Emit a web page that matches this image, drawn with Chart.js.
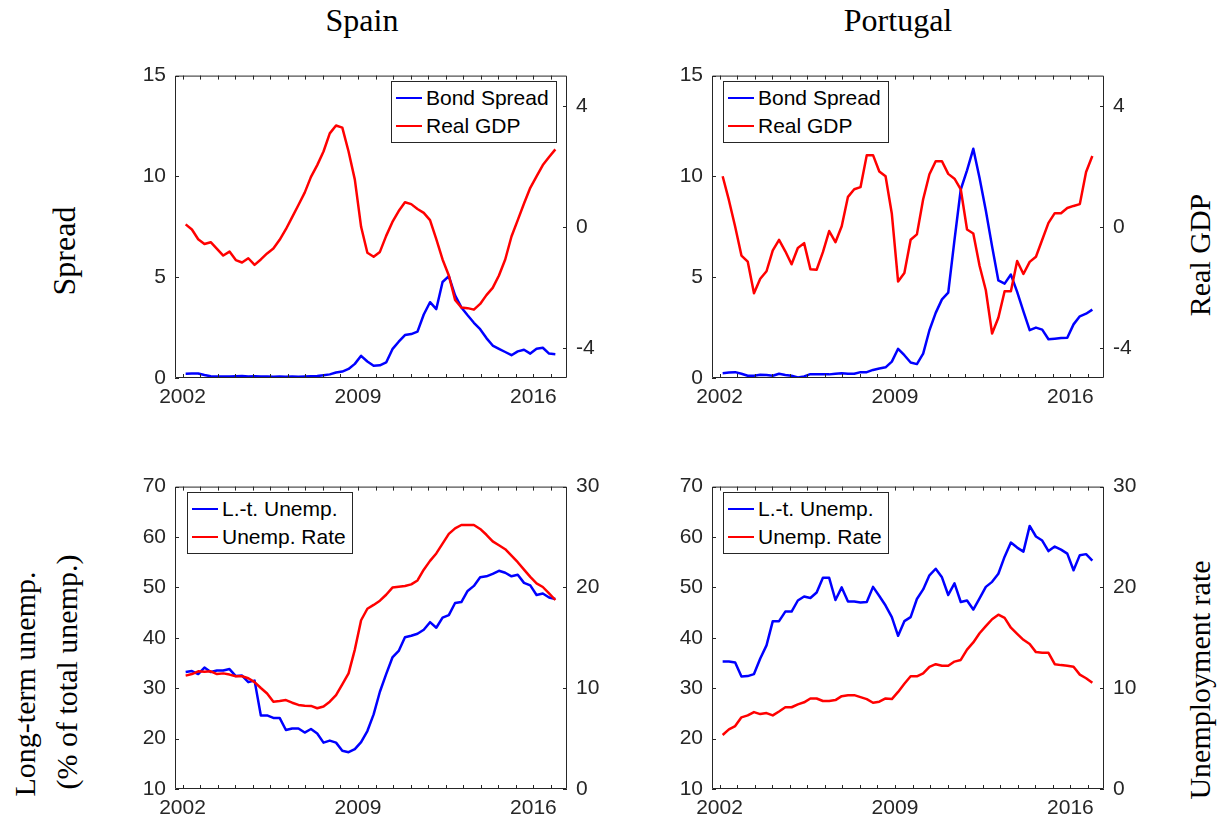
<!DOCTYPE html>
<html>
<head>
<meta charset="utf-8">
<script src="https://cdn.jsdelivr.net/npm/chart.js@4"></script>
<style>
  body { margin: 0; background: #fff; width: 1220px; height: 827px; position: relative; overflow: hidden;
         font-family: "Liberation Sans", Arial, sans-serif; }
  canvas { position: absolute; }
  .lbl { position: absolute; font-family: "Liberation Serif", serif; font-size: 30px; color: #000;
         white-space: nowrap; transform: translate(-50%, -50%); }
  .title { font-size: 32px; }
  .rot { transform: translate(-50%, -50%) rotate(-90deg); }
  .legend { position: absolute; width: 164px; height: 58px; border: 1px solid #262626; background: #fff;
            font-size: 21px; color: #000; padding-top: 2px; box-sizing: content-box; }
  .legend div { height: 28px; display: flex; align-items: center; }
  .legend .sw { display: inline-block; width: 26px; height: 0; border-top: 2.5px solid; margin: 0 4px 0 4px; }
</style>
</head>
<body>

<div class="lbl title" style="left:362px; top:20px;">Spain</div>
<div class="lbl title" style="left:898px; top:20px;">Portugal</div>
<div class="lbl rot" style="left:64px; top:251px; font-size:32px;">Spread</div>
<div class="lbl rot" style="left:1200px; top:255px;">Real GDP</div>
<div class="lbl rot" style="left:25px; top:684px;">Long-term unemp.</div>
<div class="lbl rot" style="left:67px; top:672px;">(% of total unemp.)</div>
<div class="lbl rot" style="left:1200px; top:680px;">Unemployment rate</div>

<canvas id="spainTop" width="512" height="369"></canvas>
<canvas id="portugalTop" width="512" height="369"></canvas>
<canvas id="spainBottom" width="512" height="369"></canvas>
<canvas id="portugalBottom" width="512" height="369"></canvas>

<div class="legend" style="left:391px; top:81px;">
  <div><span class="sw" style="border-color:#0000ff"></span>Bond Spread</div>
  <div><span class="sw" style="border-color:#ff0000"></span>Real GDP</div>
</div>
<div class="legend" style="left:723px; top:81px;">
  <div><span class="sw" style="border-color:#0000ff"></span>Bond Spread</div>
  <div><span class="sw" style="border-color:#ff0000"></span>Real GDP</div>
</div>
<div class="legend" style="left:187px; top:492px;">
  <div><span class="sw" style="border-color:#0000ff"></span>L.-t. Unemp.</div>
  <div><span class="sw" style="border-color:#ff0000"></span>Unemp. Rate</div>
</div>
<div class="legend" style="left:723px; top:492px;">
  <div><span class="sw" style="border-color:#0000ff"></span>L.-t. Unemp.</div>
  <div><span class="sw" style="border-color:#ff0000"></span>Unemp. Rate</div>
</div>

<script>
// quarterly data, 2002Q1 .. 2016Q4
const startYear = 2002;

const spainSpread = [0.21,0.22,0.22,0.15,0.09,0.08,0.08,0.08,0.09,0.10,
  0.08,0.09,0.07,0.08,0.06,0.07,0.06,0.07,0.06,0.08,
  0.09,0.10,0.14,0.18,0.27,0.32,0.45,0.70,1.10,0.82,
  0.61,0.63,0.77,1.43,1.80,2.13,2.18,2.30,3.15,3.76,
  3.42,4.76,5.05,4.10,3.50,3.11,2.74,2.42,1.98,1.61,
  1.45,1.29,1.13,1.32,1.40,1.21,1.45,1.50,1.21,1.18];
const spainGdp = [0.08,-0.09,-0.41,-0.57,-0.51,-0.73,-0.95,-0.82,-1.10,-1.18,
  -1.04,-1.26,-1.08,-0.88,-0.72,-0.43,-0.08,0.32,0.72,1.13,
  1.65,2.04,2.49,3.09,3.35,3.28,2.49,1.56,0.00,-0.86,
  -0.99,-0.83,-0.30,0.16,0.52,0.81,0.75,0.59,0.46,0.22,
  -0.41,-1.08,-1.61,-2.42,-2.67,-2.69,-2.74,-2.55,-2.26,-2.02,
  -1.61,-1.08,-0.32,0.22,0.77,1.29,1.67,2.04,2.31,2.56];
const portugalSpread = [0.24,0.27,0.29,0.21,0.11,0.11,0.16,0.15,0.11,0.21,
  0.15,0.11,0.03,0.08,0.19,0.19,0.18,0.18,0.21,0.23,
  0.21,0.21,0.29,0.29,0.40,0.47,0.53,0.81,1.45,1.13,
  0.77,0.69,1.21,2.37,3.23,3.90,4.23,6.85,9.35,10.30,
  11.37,9.92,8.31,6.53,4.84,4.68,5.13,4.27,3.31,2.37,
  2.50,2.40,1.92,1.95,1.98,2.00,2.66,3.06,3.19,3.39];
const portugalGdp = [1.67,0.88,0.00,-0.95,-1.15,-2.20,-1.72,-1.47,-0.78,-0.43,
  -0.81,-1.24,-0.70,-0.54,-1.40,-1.42,-0.84,-0.14,-0.51,0.02,
  0.99,1.24,1.31,2.37,2.37,1.83,1.67,0.43,-1.81,-1.53,
  -0.43,-0.25,0.91,1.74,2.17,2.17,1.75,1.59,1.24,-0.09,
  -0.22,-1.29,-2.10,-3.53,-3.01,-2.13,-2.13,-1.13,-1.56,-1.16,
  -0.99,-0.43,0.13,0.45,0.45,0.62,0.69,0.75,1.81,2.34];
const spainLtu = [33.2,33.4,32.8,34.1,33.2,33.5,33.5,33.8,32.4,32.5,
  31.2,31.5,24.6,24.6,24.1,24.1,21.7,22.0,22.0,21.2,
  21.9,21.0,19.2,19.6,19.2,17.6,17.3,17.9,19.3,21.5,
  24.8,29.3,32.8,36.1,37.4,40.1,40.4,40.8,41.6,43.1,
  42.0,44.0,44.5,46.9,47.1,49.3,50.3,52.0,52.2,52.7,
  53.3,52.9,52.2,52.5,50.9,50.4,48.5,48.8,48.0,47.7];
const spainUr = [11.25,11.4,11.67,11.64,11.67,11.4,11.47,11.35,11.18,11.18,
  10.99,10.6,10.02,9.47,8.66,8.73,8.82,8.56,8.34,8.27,
  8.24,8.01,8.18,8.66,9.31,10.38,11.47,13.83,16.74,17.88,
  18.26,18.68,19.27,19.98,20.07,20.14,20.3,20.69,21.76,22.63,
  23.37,24.34,25.31,25.86,26.19,26.19,26.19,25.8,25.22,24.57,
  24.18,23.79,23.15,22.5,21.76,21.04,20.4,20.04,19.4,18.75];
const portugalLtu = [35.3,35.3,35.1,32.3,32.4,32.8,35.9,38.5,43.3,43.3,
  45.2,45.2,47.4,48.2,47.9,49.0,51.9,51.9,47.5,50.0,
  47.2,47.2,47.0,47.1,50.1,48.3,46.4,44.1,40.4,43.3,
  44.1,47.7,49.6,52.4,53.7,52.0,48.5,50.8,47.1,47.4,
  45.6,47.8,50.1,51.1,52.7,56.1,58.9,57.9,57.1,62.2,
  60.1,59.3,57.2,58.1,57.5,56.7,53.4,56.4,56.6,55.3];
const portugalUr = [5.36,5.91,6.24,7.11,7.30,7.63,7.43,7.53,7.30,7.69,
  8.11,8.11,8.40,8.60,8.98,8.98,8.73,8.73,8.82,9.21,
  9.31,9.31,9.11,8.92,8.56,8.66,8.98,8.92,9.63,10.44,
  11.18,11.18,11.47,12.12,12.38,12.22,12.22,12.64,12.8,13.83,
  14.54,15.45,16.16,16.84,17.29,16.97,16.0,15.39,14.8,14.38,
  13.58,13.51,13.51,12.38,12.29,12.22,12.12,11.35,10.99,10.54];

// ticks and ranges
const yearTicks = [2002, 2009, 2016];
const minorStep = 0.7;
const xRange = [2001.7, 2017.34];
const spreadTicks = [0, 5, 10, 15];
const spreadRange = [0, 15];
const gdpTicks = [-4, 0, 4];
const gdpRange = [-5, 5];
const ltuTicks = [10, 20, 30, 40, 50, 60, 70];
const ltuRange = [10, 70];
const urTicks = [0, 10, 20, 30];
const urRange = [0, 30];

const axisColor = '#262626';
const tickFont = { family: '"Liberation Sans", Arial, sans-serif', size: 21 };

const toPoints = arr => arr.map((v, i) => ({ x: startYear + (i + 0.5) / 4, y: v }));

// caja tipo MATLAB con marcas hacia dentro
const boxTicks = {
    id: 'boxTicks',
    afterDraw(chart) {
        const { ctx, chartArea: a, scales } = chart;
        const len = 4;
        ctx.save();
        ctx.strokeStyle = axisColor;
        ctx.lineWidth = 1;
        ctx.beginPath();
        ctx.rect(a.left + 0.5, a.top + 0.5, a.right - a.left - 1, a.bottom - a.top - 1);
        scales.x.ticks.forEach(t => {
            const px = Math.round(scales.x.getPixelForValue(t.value)) + 0.5;
            ctx.moveTo(px, a.bottom); ctx.lineTo(px, a.bottom - len);
            ctx.moveTo(px, a.top); ctx.lineTo(px, a.top + len);
        });
        scales.yL.ticks.forEach(t => {
            const py = Math.round(scales.yL.getPixelForValue(t.value)) + 0.5;
            ctx.moveTo(a.left, py); ctx.lineTo(a.left + len, py);
        });
        scales.yR.ticks.forEach(t => {
            const py = Math.round(scales.yR.getPixelForValue(t.value)) + 0.5;
            ctx.moveTo(a.right, py); ctx.lineTo(a.right - len, py);
        });
        ctx.stroke();
        ctx.restore();
    }
};

function makePanel(id, left, top, blue, red, lRange, lTicks, rRange, rTicks) {
    const cv = document.getElementById(id);
    cv.style.left = (left - 60) + 'px';
    cv.style.top = (top - 15) + 'px';

    const yAxis = (pos, range, ticks) => ({
        type: 'linear', position: pos, min: range[0], max: range[1],
        grid: { display: false, drawTicks: false }, border: { display: false },
        afterBuildTicks: s => { s.ticks = ticks.map(v => ({ value: v })); },
        afterFit: s => { s.width = 60; },
        ticks: { padding: 9, color: axisColor, font: tickFont }
    });

    return new Chart(cv, {
        type: 'line',
        data: {
            datasets: [
                { data: toPoints(blue), borderColor: '#0000ff', borderWidth: 2.5, pointRadius: 0,
                  yAxisID: 'yL', tension: 0, borderJoinStyle: 'round', order: 2 },
                { data: toPoints(red), borderColor: '#ff0000', borderWidth: 2.5, pointRadius: 0,
                  yAxisID: 'yR', tension: 0, borderJoinStyle: 'round', order: 1 }
            ]
        },
        options: {
            responsive: false,
            animation: false,
            layout: { padding: { top: 15, left: 0, right: 0, bottom: 0 } },
            plugins: { legend: { display: false }, tooltip: { enabled: false } },
            scales: {
                x: {
                    type: 'linear', min: xRange[0], max: xRange[1],
                    grid: { display: false, drawTicks: false }, border: { display: false },
                    afterBuildTicks: s => {
                        const t = [];
                        for (let v = yearTicks[0]; v < xRange[1]; v += minorStep) t.push({ value: +v.toFixed(2) });
                        s.ticks = t;
                    },
                    afterFit: s => { s.height = 45; },
                    ticks: {
                        autoSkip: false, maxRotation: 0, padding: 7, color: axisColor, font: tickFont,
                        callback: v => yearTicks.find(y => Math.abs(y - v) < 0.01) ? String(Math.round(v)) : ''
                    }
                },
                yL: yAxis('left', lRange, lTicks),
                yR: yAxis('right', rRange, rTicks)
            }
        },
        plugins: [boxTicks]
    });
}

makePanel('spainTop', 175, 69, spainSpread, spainGdp, spreadRange, spreadTicks, gdpRange, gdpTicks);
makePanel('portugalTop', 712, 69, portugalSpread, portugalGdp, spreadRange, spreadTicks, gdpRange, gdpTicks);
makePanel('spainBottom', 175, 480, spainLtu, spainUr, ltuRange, ltuTicks, urRange, urTicks);
makePanel('portugalBottom', 712, 480, portugalLtu, portugalUr, ltuRange, ltuTicks, urRange, urTicks);
</script>
</body>
</html>
